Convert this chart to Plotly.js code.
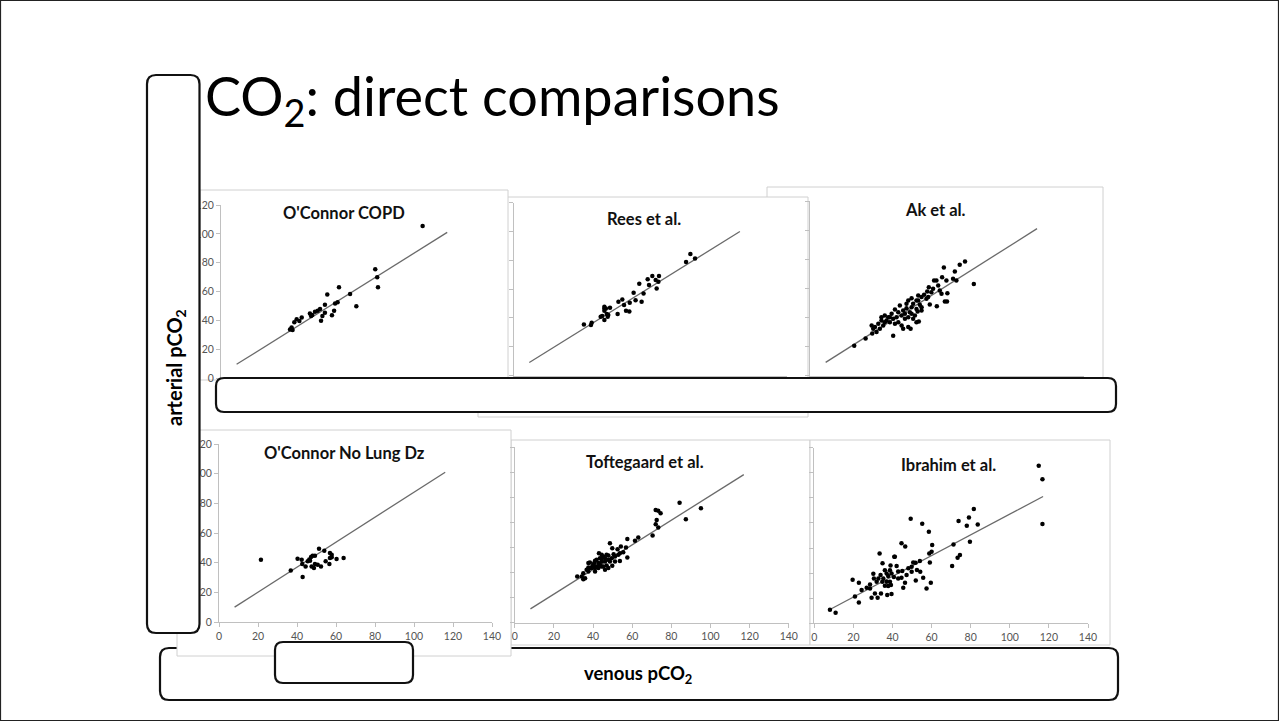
<!DOCTYPE html>
<html>
<head>
<meta charset="utf-8">
<script src="https://cdn.plot.ly/plotly-3.0.1.min.js"></script>
<style>html,body{margin:0;padding:0;background:#fff;}#chart{width:1279px;height:721px;}</style>
</head>
<body>
<div id="chart"></div>
<script>
// ---------- DATA ----------
const panelTitles = ["O'Connor COPD", "Rees et al.", "Ak et al.", "O'Connor No Lung Dz", "Toftegaard et al.", "Ibrahim et al."];
const xTickVals = [0, 20, 40, 60, 80, 100, 120, 140];

const copdX = [103.4,79.1,80.1,80.5,60.5,66.2,69.4,54.5,59.8,58.5,58,56.9,53.3,53.3,52,51.3,50.8,49.6,48.2,46.8,45.6,46.2,41.4,40.2,38.8,37.6,36.2,35.4,36.7];
const copdY = [105.4,75.4,69.8,62.9,62.9,58.3,49.7,58,52.5,51.6,46.7,43.5,50.8,45.3,43,39.7,47.9,46.7,46,43.7,44.8,43,42,39.5,40.7,38.6,35.1,33.7,33.3];
const copdLineX = [8, 116];
const copdLineY = [9.5, 101];

const reesX = [90.6,88.4,93,71.1,74.5,68.7,72.8,74.2,69.4,73.3,64.4,66.6,61.5,62.5,65.6,59.5,55.7,53.7,56.6,57.6,59.3,53.3,49.4,46.5,47.3,46.5,47.7,45.4,44.6,46.5,48.2,48.5,40,39.6,36,46.5];
const reesY = [84.4,78.8,81.3,69.1,69.1,66.8,66.3,65.1,62.8,60.5,63.7,57,57.5,52.2,51.2,50.5,52.8,51.2,48.9,45,44.5,42.7,47.1,46.6,46.6,45,42.7,41.3,40.8,38.5,40.8,42,36.7,35,35.5,47.8];
const reesLineX = [8, 116];
const reesLineY = [9, 100];

const akX = [22.6,28.4,79.2,76.5,68.4,74,83.7,67.5,69.7,73.1,74.8,63.4,65.5,60.7,59.9,62,67.2,70.2,68.9,70,64.8,61.2,58.3,57,55.3,54.4,51.9,50.2,52.7,56.1,57,55,55.6,54.4,51.9,51,49.3,48.5,47.6,46.8,45.9,45.1,44.2,43.4,42.5,41.7,40.8,40,39.1,38.2,37.4,36.5,35.7,34.9,34,33.2,32.3,31.5,31.8,42.5,46.8,50.2,51.4,47.6,45.1,52.7,53.6,57,59.5,62.9,64.6,66.3,36.5,38.2,43.4,40.8,48.5,50.2,51.9,54.4,49.3,55.3,60.4];
const akY = [20.4,25.5,78.4,76.1,74.3,71.5,62.9,67.6,65.3,66.5,65.3,65.3,61.9,60.7,57.8,57.3,56.2,56.6,50.9,50.9,47.7,48.8,55.5,53.9,55,51.6,53.2,51.6,49.3,48.6,44.7,44,37.2,36.7,47,43.5,46.3,42.4,44.7,41.3,48.2,43.5,40.1,45.4,39,42.4,36.7,40.1,37.8,41.3,34.4,37.8,32.2,35.6,30,33.3,32.2,34.4,28.9,27.3,34.4,33.3,32.2,32.2,36.7,39,41.3,47,52.7,59.6,65.3,58.5,40.1,36.7,35.6,40.1,39,40.1,42.4,45.8,49.3,51.6,53.9];
const akLineX = [8, 116];
const akLineY = [9, 101];

const noLungX = [21.5,36.8,42.9,40.3,42.4,42.7,44.4,45.5,46.3,47.2,48,49.2,47.5,48.7,49.2,50.6,52.3,51.3,54,54.7,56.6,56.9,57.8,57.8,56.9,60.3,63.9,46.7];
const noLungY = [42,34.8,30.3,42.7,42,39.1,37.5,40.9,42.2,43.8,44.7,44.7,37.5,36.4,39.1,38.6,37.5,49.3,48.1,40.9,39.1,46.6,45.4,43.6,43.1,42.4,43.1,41.3];
const noLungLineX = [8, 116];
const noLungLineY = [10, 101];

const tofteX = [84.2,95.1,87.4,72,73.3,74.5,72.5,72,73.3,70.4,63.1,61.4,57.5,56.8,57.5,55.4,53.7,54.2,52.5,48.6,49.8,53.7,49.8,46.1,46.9,44.4,43,41.8,40.6,41,39.6,38.4,37.6,36.7,35,34.2,31.9,35.9,35,43.5,45.2,46.9,47.8,49.5,51.2,46.1,44.4,42.7,41,39.3,37.6,42.7,45.2,48.6,51.2,52.9,47.8,43.5,41.8,40.1,38.4,37.6,41,44.4,46.1,47.8,50.5,44.4];
const tofteY = [95.6,91.2,82.4,89.8,89.3,87.2,81.9,78.5,75.9,69.5,67.9,65.2,66.6,59.9,51.9,56.2,55.4,60.7,58.6,63.4,59.4,49.2,45.3,42.2,45.6,44.8,55.4,50.1,47.5,40.8,44.8,48,44,42.2,39.4,36.8,36.8,35.4,34.6,51.4,52.7,54.1,50.1,51.4,52.7,48.8,48.8,47.5,49.4,43.5,47.5,43.5,44.8,48.8,48.8,54.1,43.5,46.2,44.8,46.2,43.5,40.8,43.5,51.4,51.4,53.5,54.6,54.1];
const tofteLineX = [8, 117];
const tofteLineY = [11, 118];

const ibrahimX = [114.8,116.7,116.7,8,10.9,81.6,79.1,78,83.6,79.6,73.8,71.2,70.5,73.3,74.5,49.3,55.2,58.6,44.6,46.5,60.3,60,58.8,59.1,59.6,57.4,55.7,54,51.8,51.9,49.8,50.6,48.1,46.4,45.5,45,42.9,41.2,42.1,39,40.7,37.8,40.9,33.4,34.9,33.9,34.8,37,37.8,39.5,37.3,34.1,32.4,29.3,31,30.5,30.2,31.9,28.5,26.8,28.5,24.2,22.8,19.6,20.8,22.8,36.1,38.7,39.5,37,35.3,32.8,38.7,42.9,44.6,47.2,49.8,52.5,54.2,39.2,36.1];
const ibrahimY = [125.6,114.7,79.1,10.8,8.5,91.1,84.4,77.8,78.8,65,81.5,62.8,45.7,52.3,54.4,83.3,79.4,73,63.8,61.1,62.3,57,55.7,48.5,32.3,27.8,36.3,49.6,48.2,34.2,45.1,48.5,43.8,32.3,28.4,41.7,41.2,53.1,45.7,46,36.9,37.6,53.1,55.7,47.8,38.4,33.1,33.1,29.7,23.3,22.5,23.8,20.3,20.3,23.8,35.7,39.4,33.1,31,28.4,27.8,26.5,32.4,34.8,21.3,16.5,42.3,42.3,39.7,39.7,35.7,35.7,33.1,35.7,36.3,38.4,41.1,42.4,41.1,30.5,30];
const ibrahimLineX = [8, 117];
const ibrahimLineY = [11, 101];

const pointsX = [copdX, reesX, akX, noLungX, tofteX, ibrahimX];
const pointsY = [copdY, reesY, akY, noLungY, tofteY, ibrahimY];
const linesX = [copdLineX, reesLineX, akLineX, noLungLineX, tofteLineX, ibrahimLineX];
const linesY = [copdLineY, reesLineY, akLineY, noLungLineY, tofteLineY, ibrahimLineY];
const yMax = [120, 120, 120, 120, 140, 140];

// ---------- LAYOUT HELPERS (pixel geometry) ----------
const W = 1279, H = 721;
const px = x => x / W;
const py = y => 1 - y / H;

// plot areas in pixels: [x0, x1, yBottom, yTop]
const areas = [
  [221, 494, 378, 205],
  [513.7, 786.7, 375.5, 202.7],
  [810, 1084, 375.5, 201],
  [219, 492, 622, 444],
  [514.8, 788.8, 622.7, 447],
  [814.3, 1088, 623.3, 447.6]
];
const titlePos = [[344, 213], [644, 219], [935, 210], [344, 453], [645, 462], [948, 465]];

function rr(x0, y0, x1, y1, r) {
  const X = v => px(v).toFixed(5), Y = v => py(v).toFixed(5);
  return `M${X(x0 + r)},${Y(y0)} L${X(x1 - r)},${Y(y0)} Q${X(x1)},${Y(y0)} ${X(x1)},${Y(y0 + r)} ` +
         `L${X(x1)},${Y(y1 - r)} Q${X(x1)},${Y(y1)} ${X(x1 - r)},${Y(y1)} ` +
         `L${X(x0 + r)},${Y(y1)} Q${X(x0)},${Y(y1)} ${X(x0)},${Y(y1 - r)} ` +
         `L${X(x0)},${Y(y0 + r)} Q${X(x0)},${Y(y0)} ${X(x0 + r)},${Y(y0)} Z`;
}
function frame(x0, y0, x1, y1) {
  return {type: 'rect', xref: 'paper', yref: 'paper', x0: px(x0), x1: px(x1), y0: py(y1), y1: py(y0),
          fillcolor: '#ffffff', line: {color: '#d0d0d0', width: 1}, layer: 'below'};
}
function box(x0, y0, x1, y1, r, layer) {
  return {type: 'path', xref: 'paper', yref: 'paper', path: rr(x0, y0, x1, y1, r),
          fillcolor: '#ffffff', line: {color: '#111111', width: 2.2}, layer: layer};
}

const FONT = 'Lato, "Open Sans", sans-serif';
const traces = [];
const layout = {
  width: W, height: H,
  margin: {l: 0, r: 0, t: 0, b: 0},
  paper_bgcolor: '#ffffff',
  plot_bgcolor: 'rgba(0,0,0,0)',
  showlegend: false,
  font: {family: FONT},
  shapes: [],
  annotations: []
};

for (let i = 0; i < 6; i++) {
  const n = i === 0 ? '' : String(i + 1);
  traces.push({
    x: linesX[i], y: linesY[i], type: 'scatter', mode: 'lines',
    line: {color: '#6a6a6a', width: 1.3}, xaxis: 'x' + n, yaxis: 'y' + n, hoverinfo: 'skip'
  });
  traces.push({
    x: pointsX[i], y: pointsY[i], type: 'scatter', mode: 'markers',
    marker: {color: '#000000', size: 4.5}, xaxis: 'x' + n, yaxis: 'y' + n
  });
  const a = areas[i];
  const tickFont = {family: FONT, size: 10.5, color: '#555555'};
  layout['xaxis' + n] = {
    domain: [px(a[0]), px(a[1])], range: [0, 140], anchor: 'y' + n,
    tickvals: xTickVals, ticks: 'outside', ticklen: 4, tickcolor: '#c0c0c0',
    showline: true, linecolor: '#c0c0c0', linewidth: 1,
    showgrid: false, zeroline: false, fixedrange: true,
    showticklabels: i >= 3, tickfont: tickFont
  };
  layout['yaxis' + n] = {
    domain: [py(a[2]), py(a[3])], range: [0, yMax[i]], anchor: 'x' + n, dtick: 20,
    ticks: 'outside', ticklen: 4, tickcolor: '#c0c0c0',
    showline: true, linecolor: '#c0c0c0', linewidth: 1,
    showgrid: false, zeroline: false, fixedrange: true,
    showticklabels: i === 0 || i === 3, tickfont: tickFont
  };
  layout.annotations.push({
    text: '<b>' + panelTitles[i] + '</b>', xref: 'paper', yref: 'paper',
    x: px(titlePos[i][0]), y: py(titlePos[i][1]), xanchor: 'center', yanchor: 'middle',
    showarrow: false, font: {family: FONT, size: 16.5, color: '#111111'}
  });
}

// slide border
layout.shapes.push({type: 'rect', xref: 'paper', yref: 'paper', x0: px(0.5), x1: px(1278.5), y0: py(720.5), y1: py(0.5),
  line: {color: '#222222', width: 1.2}, fillcolor: 'rgba(0,0,0,0)', layer: 'below'});
// bottom-row right frames
layout.shapes.push(frame(511, 440, 810, 645));
layout.shapes.push(frame(810, 440, 1110, 645));
// bottom wide box
layout.shapes.push(box(160, 648, 1118, 700, 9, 'below'));
// top-row frames (3 under 2 under 1)
layout.shapes.push(frame(767, 187, 1103, 380));
layout.shapes.push(frame(478, 197, 808, 417));
layout.shapes.push(frame(200, 190, 508, 380));
// bottom-left frame
layout.shapes.push(frame(177, 430, 511, 656));
// overlay boxes
layout.shapes.push(box(147, 75, 199.5, 633, 9, 'above'));
layout.shapes.push(box(216, 378, 1116, 412, 8, 'above'));
layout.shapes.push(box(275, 642, 413, 683, 8, 'above'));

// texts
layout.annotations.push({
  text: 'CO<sub>2</sub>: direct comparisons', xref: 'paper', yref: 'paper',
  x: px(203), y: py(99), xanchor: 'left', yanchor: 'middle', showarrow: false,
  font: {family: FONT, size: 54, color: '#000000'}
});
layout.annotations.push({
  text: '<b>arterial pCO<sub>2</sub></b>', xref: 'paper', yref: 'paper', textangle: -90,
  x: px(175), y: py(368), xanchor: 'center', yanchor: 'middle', showarrow: false,
  font: {family: FONT, size: 20, color: '#000000'}
});
layout.annotations.push({
  text: '<b>venous pCO<sub>2</sub></b>', xref: 'paper', yref: 'paper',
  x: px(638), y: py(674), xanchor: 'center', yanchor: 'middle', showarrow: false,
  font: {family: FONT, size: 18.5, color: '#000000'}
});

Plotly.newPlot('chart', traces, layout, {staticPlot: true, displayModeBar: false});
</script>
</body>
</html>
